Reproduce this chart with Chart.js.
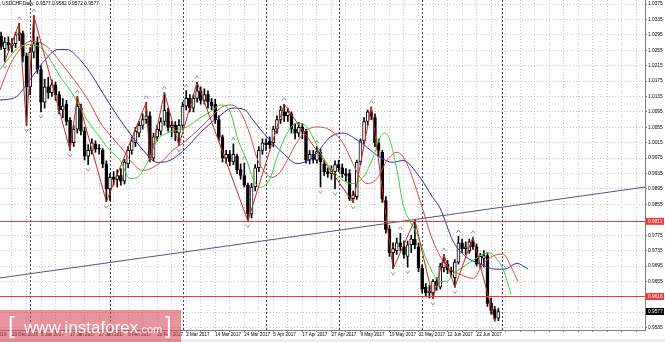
<!DOCTYPE html>
<html>
<head>
<meta charset="utf-8">
<script src="https://cdn.jsdelivr.net/npm/chart.js@4.4.1/dist/chart.umd.min.js"></script>
<style>
  html, body { margin: 0; padding: 0; background: #ececec; }
  #wrap { position: relative; width: 665px; height: 342px; }
  #chart { position: absolute; left: 0; top: 0; background: #fff; }
  #wm { position: absolute; left: 0; top: 310px; width: 181px; height: 32px;
        background: rgba(215,60,75,0.55); color: #fff; font-family: 'Liberation Sans', sans-serif; }
  #wm .br { position: absolute; top: 1px; font-size: 24px; line-height: 28px; }
  #wm .tx { position: absolute; left: 24px; top: 8px; font-size: 17px; line-height: 20px; }
  #wm .tx small { font-size: 11px; }
</style>
</head>
<body>
<div id="wrap">
  <canvas id="chart" width="665" height="339"></canvas>
  <div id="wm"><span class="br" style="left:8px">[</span><span class="tx">www.instaforex<small>.com</small></span><span class="br" style="left:165px">]</span></div>
</div>
<script>
// daily USDCHF candles, bar index 0 = mid Dec 2016, last = 30 Jun 2017
const opens = [
  1.0291,1.0259,1.0276,1.0266,1.0272,1.0295,1.0298,1.0240,1.0160,1.0250,
  1.0275,1.0205,1.0120,1.0160,1.0145,1.0165,1.0140,1.0100,1.0115,1.0074,
  1.0015,1.0050,1.0105,1.0045,0.9980,0.9995,1.0012,1.0000,0.9995,0.9960,
  0.9895,0.9925,0.9920,0.9930,0.9915,0.9960,0.9995,1.0015,1.0040,1.0060,
  1.0075,1.0085,0.9975,1.0030,1.0045,1.0070,1.0095,1.0055,1.0060,1.0040,
  1.0060,1.0110,1.0130,1.0105,1.0130,1.0150,1.0125,1.0140,1.0120,1.0115,
  1.0075,1.0030,0.9975,0.9985,0.9965,0.9980,0.9945,0.9930,0.9905,0.9830,
  0.9900,0.9950,0.9995,1.0015,1.0020,1.0015,1.0050,1.0075,1.0095,1.0085,
  1.0090,1.0050,1.0040,1.0055,1.0045,0.9970,0.9985,0.9970,0.9990,0.9960,
  0.9940,0.9935,0.9940,0.9958,0.9950,0.9935,0.9935,0.9870,0.9875,0.9965,
  1.0020,1.0070,1.0095,1.0080,1.0015,0.9990,0.9865,0.9790,0.9730,0.9735,
  0.9755,0.9745,0.9720,0.9750,0.9765,0.9745,0.9690,0.9640,0.9625,0.9625,
  0.9655,0.9640,0.9690,0.9700,0.9683,0.9665,0.9705,0.9755,0.9740,0.9735,
  0.9758,0.9745,0.9700,0.9715,0.9722,0.9598,0.9582,0.9560
];
const highs = [
  1.0302,1.0288,1.0290,1.0285,1.0302,1.0325,1.0305,1.0248,1.0262,1.0345,
  1.0290,1.0215,1.0180,1.0185,1.0178,1.0172,1.0148,1.0130,1.0125,1.0080,
  1.0060,1.0135,1.0115,1.0055,1.0010,1.0025,1.0020,1.0010,1.0000,0.9968,
  0.9935,0.9940,0.9945,0.9948,0.9972,1.0005,1.0030,1.0055,1.0070,1.0090,
  1.0120,1.0095,1.0040,1.0060,1.0080,1.0145,1.0105,1.0070,1.0070,1.0075,
  1.0120,1.0150,1.0140,1.0140,1.0172,1.0160,1.0155,1.0150,1.0130,1.0128,
  1.0085,1.0035,0.9995,0.9995,1.0012,0.9985,0.9960,0.9962,0.9910,0.9910,
  0.9958,1.0005,1.0025,1.0025,1.0030,1.0058,1.0085,1.0110,1.0115,1.0105,
  1.0095,1.0065,1.0068,1.0065,1.0050,0.9995,0.9995,1.0005,0.9998,0.9968,
  0.9950,0.9955,0.9968,0.9970,0.9960,0.9948,0.9945,0.9890,0.9970,1.0025,
  1.0080,1.0100,1.0108,1.0090,1.0025,0.9995,0.9875,0.9800,0.9755,0.9768,
  0.9780,0.9760,0.9760,0.9775,0.9815,0.9755,0.9698,0.9650,0.9645,0.9660,
  0.9665,0.9702,0.9725,0.9710,0.9692,0.9712,0.9772,0.9765,0.9758,0.9765,
  0.9770,0.9752,0.9728,0.9735,0.9730,0.9612,0.9590,0.9585
];
const lows = [
  1.0257,1.0225,1.0255,1.0250,1.0262,1.0280,1.0225,1.0060,1.0140,1.0235,
  1.0195,1.0095,1.0105,1.0130,1.0135,1.0125,1.0090,1.0080,1.0060,0.9995,
  1.0005,1.0040,1.0035,0.9970,0.9958,0.9985,0.9990,0.9985,0.9950,0.9862,
  0.9865,0.9905,0.9900,0.9905,0.9908,0.9950,0.9985,1.0005,1.0030,1.0050,
  1.0065,0.9965,0.9968,1.0020,1.0035,1.0060,1.0045,1.0030,1.0020,1.0008,
  1.0050,1.0100,1.0095,1.0095,1.0120,1.0115,1.0115,1.0105,1.0100,1.0065,
  1.0020,0.9965,0.9962,0.9955,0.9958,0.9935,0.9920,0.9900,0.9812,0.9820,
  0.9890,0.9940,0.9985,0.9995,1.0000,1.0005,1.0040,1.0065,1.0070,1.0070,
  1.0040,1.0025,1.0030,1.0025,0.9962,0.9960,0.9962,0.9962,0.9900,0.9930,
  0.9925,0.9920,0.9895,0.9940,0.9925,0.9915,0.9865,0.9860,0.9868,0.9958,
  1.0012,1.0060,1.0075,1.0005,0.9980,0.9860,0.9780,0.9720,0.9688,0.9725,
  0.9735,0.9715,0.9692,0.9730,0.9740,0.9680,0.9625,0.9615,0.9612,0.9610,
  0.9632,0.9635,0.9680,0.9675,0.9668,0.9640,0.9700,0.9730,0.9725,0.9728,
  0.9738,0.9695,0.9690,0.9692,0.9590,0.9570,0.9552,0.9553
];
const closes = [
  1.0265,1.0276,1.0268,1.0272,1.0295,1.0300,1.0240,1.0160,1.0250,1.0270,
  1.0205,1.0120,1.0160,1.0145,1.0165,1.0140,1.0100,1.0110,1.0070,1.0015,
  1.0050,1.0110,1.0045,0.9980,0.9995,1.0015,0.9998,0.9998,0.9960,0.9895,
  0.9925,0.9920,0.9930,0.9915,0.9965,0.9995,1.0020,1.0045,1.0060,1.0075,
  1.0085,0.9975,1.0030,1.0050,1.0070,1.0100,1.0055,1.0060,1.0040,1.0060,
  1.0110,1.0130,1.0105,1.0130,1.0150,1.0125,1.0140,1.0120,1.0110,1.0075,
  1.0030,0.9975,0.9985,0.9965,0.9985,0.9945,0.9930,0.9905,0.9830,0.9900,
  0.9950,0.9995,1.0015,1.0010,1.0010,1.0050,1.0075,1.0100,1.0085,1.0095,
  1.0050,1.0040,1.0055,1.0045,0.9970,0.9985,0.9972,0.9992,0.9965,0.9940,
  0.9935,0.9945,0.9958,0.9950,0.9935,0.9930,0.9870,0.9880,0.9965,1.0020,
  1.0070,1.0095,1.0085,1.0015,0.9995,0.9870,0.9790,0.9730,0.9740,0.9755,
  0.9745,0.9725,0.9750,0.9765,0.9750,0.9690,0.9635,0.9625,0.9630,0.9655,
  0.9645,0.9695,0.9705,0.9685,0.9680,0.9705,0.9755,0.9740,0.9745,0.9758,
  0.9745,0.9700,0.9720,0.9722,0.9598,0.9580,0.9560,0.9577
];

// Alligator lines: [bar index, price]
const lipsPts = [
  [-0.3,1.0205],[2.5,1.0239],[5.2,1.0265],[8.8,1.0270],[11.5,1.0257],[13.5,1.0231],[16.2,1.0187],
  [19,1.0152],[21.7,1.0108],[23.7,1.0074],[27.2,1.0029],[30,0.9995],[32.8,0.9969],[35.5,0.9922],
  [37.4,0.9925],[40.2,0.9961],[43,1.0022],[45.7,1.0040],[48.5,1.0048],[51.2,1.0056],[54.8,1.0079],
  [58.4,1.0100],[60.3,1.0113],[63.1,1.0095],[65.3,1.0022],[67.7,0.9969],[69.4,0.9922],[71.3,0.9899],
  [74.1,0.9922],[76,0.9977],[78.8,1.0040],[81.5,1.0066],[84.3,1.0056],[85.9,1.0029],[88.7,0.9977],
  [91.4,0.9943],[94.2,0.9917],[96.9,0.9909],[99.7,0.9925],[102.5,0.9977],[104.4,1.0029],[105.8,1.0040],
  [107.1,1.0022],[109.1,0.9943],[110.7,0.9857],[112.6,0.9812],[114.6,0.9778],[116.8,0.9721],[119,0.9676],
  [120.9,0.9655],[122.8,0.9655],[124.5,0.9674],[126.4,0.9687],[128.4,0.9700],[130.6,0.9713],[132.8,0.9726],
  [134.7,0.9729],[136.6,0.9713],[138.3,0.9687],[139.6,0.9650],[140.5,0.9621]
];
const teethPts = [
  [-0.3,1.0152],[2.5,1.0218],[5.2,1.0257],[8,1.0278],[10.7,1.0275],[13.5,1.0257],[16.2,1.0226],
  [19,1.0192],[21.7,1.0158],[24.5,1.0118],[27.2,1.0069],[30,1.0035],[33.6,0.9996],[36.3,0.9961],
  [39.1,0.9943],[41.9,0.9951],[44.6,0.9969],[47.4,0.9996],[50.1,1.0014],[54.8,1.0053],[58.4,1.0087],
  [60.9,1.0108],[63.6,1.0113],[66.4,1.0087],[68.6,1.0035],[70.5,0.9975],[72.7,0.9938],[74.6,0.9925],
  [76.8,0.9938],[78.8,0.9969],[81.5,1.0016],[84.3,1.0048],[87,1.0056],[90.6,1.0048],[94.2,1.0014],
  [96.9,0.9961],[98.9,0.9925],[100.8,0.9909],[103.6,0.9922],[106.3,0.9969],[109.1,0.9990],[111.8,0.9961],
  [115.4,0.9865],[119,0.9760],[122.8,0.9694],[126.4,0.9674],[130,0.9663],[132.8,0.9700],[135.5,0.9721],
  [138.3,0.9726],[140.7,0.9689],[142.4,0.9655]
];
const jawPts = [
  [-0.3,1.0126],[3.8,1.0132],[8,1.0179],[11.5,1.0223],[15.7,1.0257],[18.2,1.0257],[20.9,1.0239],
  [24.5,1.0197],[29.2,1.0126],[32.8,1.0074],[36.3,1.0029],[39.1,0.9996],[43,0.9964],[46.5,0.9969],
  [51.2,1.0003],[54.8,1.0040],[59.5,1.0079],[63.9,1.0105],[67.2,1.0100],[69.4,1.0074],[73.5,1.0027],
  [77.7,0.9988],[81.5,0.9961],[85.9,0.9977],[90.6,1.0029],[94.2,1.0040],[98.1,1.0022],[100.8,1.0003],
  [104.4,0.9977],[108,0.9964],[110.7,0.9969],[115.4,0.9925],[119,0.9872],[120.9,0.9846],[124.5,0.9760],
  [127.8,0.9721],[132,0.9700],[136.1,0.9687],[138.8,0.9687],[142.1,0.9702],[145.2,0.9687]
];
const zigzagPts = [
  [1,1.0225],[5,1.0325],[7,1.0060],[9,1.0345],[19,0.9995],[21,1.0135],[29,0.9862],[40,1.0120],
  [41,0.9965],[45,1.0145],[49,1.0008],[54,1.0172],[68,0.9812],[78,1.0115],[97,0.9860],[102,1.0108],
  [108,0.9688],[114,0.9815],[119,0.9610],[122,0.9725],[125,0.9640],[130,0.9770],[136,0.9552]
];
const trendPts = [[-0.3, 0.9664], [177.4, 0.9900]];

const fractalUp = [5, 9, 21, 40, 45, 51, 54, 64, 67, 78, 87, 102, 110, 122, 126, 130];
const fractalDown = [1, 7, 11, 19, 24, 29, 49, 68, 88, 92, 97, 108, 112, 119, 125];

const monthStarts = [8, 30, 50, 73, 93, 116, 138];
const firstLabelBar = -5;
const dateLabels = [
  '8 Dec 2016', '20 Dec 2016', '5 Jan 2017', '17 Jan 2017', '27 Jan 2017', '8 Feb 2017',
  '20 Feb 2017', '2 Mar 2017', '14 Mar 2017', '24 Mar 2017', '5 Apr 2017', '17 Apr 2017',
  '27 Apr 2017', '9 May 2017', '19 May 2017', '31 May 2017', '12 Jun 2017', '22 Jun 2017'
];
const priceTicks = [
  1.0375, 1.0335, 1.0295, 1.0255, 1.0215, 1.0175, 1.0135, 1.0095, 1.0055, 1.0015, 0.9975,
  0.9935, 0.9895, 0.9855, 0.9815, 0.9775, 0.9735, 0.9695, 0.9655, 0.9615, 0.9575, 0.9535
];
const levels = [0.9811, 0.9616];
const lastPrice = 0.9577;
const headerText = 'USDCHF,Daily  0.9577 0.9582 0.9572 0.9577';

const FONT = "'Liberation Sans', 'DejaVu Sans', sans-serif";
const LEVEL_RED = '#ee3b36';
const toXY = pts => pts.map(([x, y]) => ({ x, y }));
const nearLevel = v => levels.some(l => Math.abs(l - v) < 0.0012);

const chartOverlay = {
  id: 'chartOverlay',
  beforeDatasetsDraw(chart) {
    const { ctx, chartArea: a, scales: { x } } = chart;
    ctx.save();
    ctx.beginPath();
    ctx.rect(a.left, a.top, a.width, a.height);
    ctx.clip();
    // month separators
    ctx.strokeStyle = '#444';
    ctx.lineWidth = 1;
    ctx.setLineDash([2, 2]);
    monthStarts.forEach(i => {
      const px = Math.round(x.getPixelForValue(i)) + 0.5;
      ctx.beginPath(); ctx.moveTo(px, a.top); ctx.lineTo(px, a.bottom); ctx.stroke();
    });
    ctx.restore();
  },
  afterDraw(chart) {
    const { ctx, chartArea: a, scales: { x, y } } = chart;
    ctx.save();
    ctx.beginPath();
    ctx.rect(a.left, a.top, a.width, a.height);
    ctx.clip();
    // horizontal levels
    ctx.setLineDash([]);
    ctx.globalAlpha = 1;
    ctx.lineWidth = 1;
    ctx.strokeStyle = LEVEL_RED;
    levels.forEach(v => {
      const py = Math.round(y.getPixelForValue(v)) + 0.5;
      ctx.beginPath(); ctx.moveTo(a.left, py); ctx.lineTo(a.right, py); ctx.stroke();
    });
    // fractal arrows
    ctx.strokeStyle = '#8c8c8c';
    ctx.lineWidth = 0.9;
    fractalUp.forEach(i => {
      const px = x.getPixelForValue(i), py = y.getPixelForValue(highs[i]) - 5;
      ctx.beginPath(); ctx.moveTo(px - 2, py + 1.5); ctx.lineTo(px, py - 1.5); ctx.lineTo(px + 2, py + 1.5); ctx.stroke();
    });
    fractalDown.forEach(i => {
      const px = x.getPixelForValue(i), py = y.getPixelForValue(lows[i]) + 5;
      ctx.beginPath(); ctx.moveTo(px - 2, py - 1.5); ctx.lineTo(px, py + 1.5); ctx.lineTo(px + 2, py - 1.5); ctx.stroke();
    });
    ctx.restore();

    // price boxes on the axis
    ctx.save();
    ctx.font = '4.8px ' + FONT;
    ctx.textBaseline = 'middle';
    const box = (v, bg) => {
      const py = y.getPixelForValue(v);
      ctx.fillStyle = bg;
      ctx.fillRect(a.right + 1, py - 3.5, 18, 7);
      ctx.fillStyle = '#fff';
      ctx.fillText(v.toFixed(4), a.right + 3, py + 0.3);
    };
    levels.forEach(v => box(v, LEVEL_RED));
    box(lastPrice, '#000');

    // header
    ctx.fillStyle = '#000';
    ctx.textBaseline = 'top';
    ctx.fillText(headerText, 2, 1);
    ctx.restore();
  }
};

new Chart(document.getElementById('chart'), {
  type: 'bar',
  data: {
    datasets: [
      { type: 'line', data: toXY(zigzagPts), borderColor: '#c02828', borderWidth: 1, pointRadius: 0, tension: 0, order: 1 },
      { type: 'line', data: toXY(lipsPts), borderColor: '#3ccf3c', borderWidth: 1, pointRadius: 0, cubicInterpolationMode: 'monotone', order: 2 },
      { type: 'line', data: toXY(teethPts), borderColor: '#d44848', borderWidth: 1, pointRadius: 0, cubicInterpolationMode: 'monotone', order: 3 },
      { type: 'line', data: toXY(jawPts), borderColor: '#2f2fb4', borderWidth: 1, pointRadius: 0, cubicInterpolationMode: 'monotone', order: 4 },
      { type: 'line', data: toXY(trendPts), borderColor: '#55557e', borderWidth: 1, pointRadius: 0, tension: 0, order: 5 },
      {
        label: 'body',
        data: opens.map((o, i) => ({ x: i, y: [o, closes[i]] })),
        backgroundColor: opens.map((o, i) => closes[i] >= o ? '#ffffff' : '#000000'),
        borderColor: '#000', borderWidth: 1, borderSkipped: false,
        barThickness: 3, minBarLength: 1, grouped: false, order: 10
      },
      {
        label: 'wick',
        data: highs.map((h, i) => ({ x: i, y: [lows[i], h] })),
        backgroundColor: '#000', barThickness: 1, grouped: false, order: 11
      }
    ]
  },
  options: {
    responsive: false,
    animation: false,
    devicePixelRatio: 1,
    events: [],
    layout: { padding: 0 },
    plugins: { legend: { display: false }, tooltip: { enabled: false } },
    scales: {
      x: {
        type: 'linear', min: -0.3, max: 177.4, offset: false,
        afterBuildTicks: s => {
          const t = [];
          for (let v = firstLabelBar; v <= 177; v += 4) t.push({ value: v });
          s.ticks = t;
        },
        afterFit: s => { s.height = 9; s.paddingLeft = 0; s.paddingRight = 0; },
        ticks: {
          autoSkip: false, maxRotation: 0, align: 'start', padding: 0, color: '#000',
          font: { family: FONT, size: 4.6 },
          callback: v => {
            const k = (v - firstLabelBar) / 8;
            return Number.isInteger(k) ? (dateLabels[k] || '') : '';
          }
        },
        grid: { color: '#c6c6c6', offset: false, tickLength: 2, tickColor: '#777' },
        border: { color: '#808080', dash: [1, 2] }
      },
      y: {
        position: 'right', min: 0.9529, max: 1.03854,
        afterBuildTicks: s => { s.ticks = priceTicks.map(v => ({ value: v })); },
        afterFit: s => { s.width = 20; s.paddingTop = 0; s.paddingBottom = 0; },
        ticks: {
          padding: 1, color: '#000', font: { family: FONT, size: 4.8 },
          callback: v => (nearLevel(v) || Math.abs(v - lastPrice) < 0.0012) ? '' : v.toFixed(4)
        },
        grid: {
          color: c => (c.tick && nearLevel(c.tick.value)) ? 'rgba(0,0,0,0)' : '#c6c6c6',
          tickLength: 2, tickColor: '#777'
        },
        border: { color: '#808080', dash: [1, 2] }
      }
    }
  },
  plugins: [chartOverlay]
});
</script>
</body>
</html>
